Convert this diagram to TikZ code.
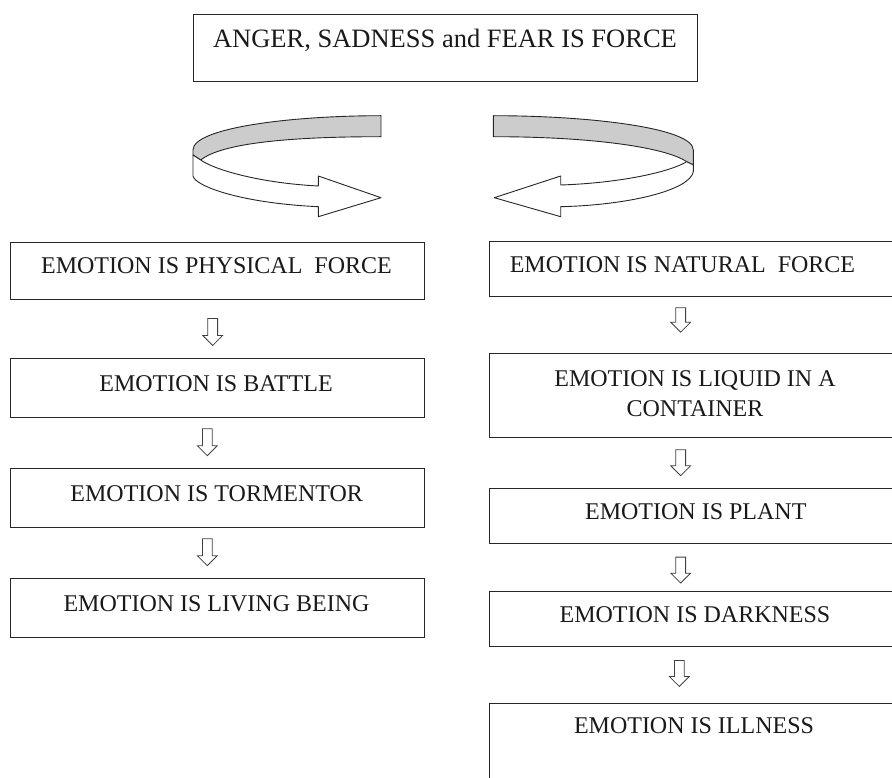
\documentclass[tikz,border=0pt]{standalone}
\usepackage{fontspec}
\setmainfont{Liberation Serif}
\usetikzlibrary{shapes.arrows}
\begin{document}
\begin{tikzpicture}[x=1pt,y=-1pt,
  box/.style={draw=black!85, line width=1.1pt, inner sep=0pt, anchor=north west},
  lbl/.style={font=\fontsize{24pt}{30pt}\selectfont, inner sep=0pt, anchor=base, text=black!90},
  ttl/.style={font=\fontsize{26.5pt}{32pt}\selectfont, inner sep=0pt, anchor=base, text=black!90},
  downarr/.style={single arrow, draw=black!75, fill=white, line width=0.8pt, rotate=-90, anchor=tail,
    minimum height=26pt, inner xsep=0pt, inner ysep=4.5pt, single arrow head extend=5pt,
    single arrow tip angle=90, single arrow head indent=0pt},
  ribbon/.style={draw=black!85, line width=0.9pt, line join=round},
  backside/.style={ribbon, fill=black!20},
  frontside/.style={ribbon, fill=white}]
\useasboundingbox (0,0) rectangle (892,778);
\clip (0,0) rectangle (892,778);

% title
\node[box, minimum width=503.4pt, minimum height=67pt] (title) at (193.3,14) {};
\node[ttl] (titletext) at (445,48) {ANGER, SADNESS and FEAR IS FORCE};

% left ribbon arrow
\path[backside] (381,115.7) .. controls (290,115.7) and (193,128) .. (193,150) -- (193,155) -- (200.7,160)
  .. controls (222,143) and (290,136.7) .. (381,136.7) -- cycle;
\path[frontside] (193,155) -- (193,176) .. controls (195,186) and (240,203) .. (318.3,206.7)
  -- (318.3,216.7) -- (381,197.7) -- (318.3,176) -- (318.3,186)
  .. controls (260,183) and (215,170) .. (200.7,160) -- cycle;

% right ribbon arrow
\path[backside] (493.3,115.7) .. controls (590,115.7) and (693.3,128) .. (693.3,150) -- (693.3,165) -- (686.7,161.7)
  .. controls (665,147) and (590,136.7) .. (493.3,136.7) -- cycle;
\path[frontside] (693.3,165) -- (693.3,171.7) .. controls (690,190) and (630,205) .. (560.7,206.7)
  -- (560.7,216.7) -- (494.3,197.7) -- (560.7,176) -- (560.7,185)
  .. controls (620,183) and (670,172) .. (686.7,161.7) -- cycle;

% left column
\node[box, minimum width=414.3pt, minimum height=57.6pt] (l1) at (10,241.7) {};
\node[lbl] (l1t) at (216.5,274) {EMOTION IS PHYSICAL\ \ FORCE};
\node[box, minimum width=414.3pt, minimum height=58.4pt] (l2) at (10,358.3) {};
\node[lbl] (l2t) at (216,391.5) {EMOTION IS BATTLE};
\node[box, minimum width=414.3pt, minimum height=58.4pt] (l3) at (10,468.3) {};
\node[lbl] (l3t) at (216.7,501.5) {EMOTION IS TORMENTOR};
\node[box, minimum width=414.3pt, minimum height=58.4pt] (l4) at (10,578.3) {};
\node[lbl] (l4t) at (216.5,611.3) {EMOTION IS LIVING BEING};

\node[downarr, minimum height=27pt] (la1) at (212.7,318) {};
\node[downarr, minimum height=27pt] (la2) at (207.3,428.3) {};
\node[downarr, minimum height=27pt] (la3) at (207.3,538.3) {};

% right column
\node[box, minimum width=420pt, minimum height=55.3pt] (r1) at (489,240.7) {};
\node[lbl] (r1t) at (682.5,272.5) {EMOTION IS NATURAL\ \ FORCE};
\node[box, minimum width=420pt, minimum height=83.4pt] (r2) at (489,353.3) {};
\node[lbl, anchor=north, align=center] (r2t) at (695,370.3) {EMOTION IS LIQUID IN A\\CONTAINER};
\node[box, minimum width=420pt, minimum height=55pt] (r3) at (489,488.3) {};
\node[lbl] (r3t) at (695.8,519) {EMOTION IS PLANT};
\node[box, minimum width=420pt, minimum height=55pt] (r4) at (489,591) {};
\node[lbl] (r4t) at (695,622.5) {EMOTION IS DARKNESS};
\node[box, minimum width=420pt, minimum height=100pt] (r5) at (489,702.7) {};
\node[lbl] (r5t) at (694,733.5) {EMOTION IS ILLNESS};

\node[downarr, minimum height=24.5pt] (ra1) at (680.7,307.3) {};
\node[downarr] (ra2) at (680.7,449.3) {};
\node[downarr] (ra3) at (680.7,556.7) {};
\node[downarr] (ra4) at (679.3,660) {};
\end{tikzpicture}
\end{document}
